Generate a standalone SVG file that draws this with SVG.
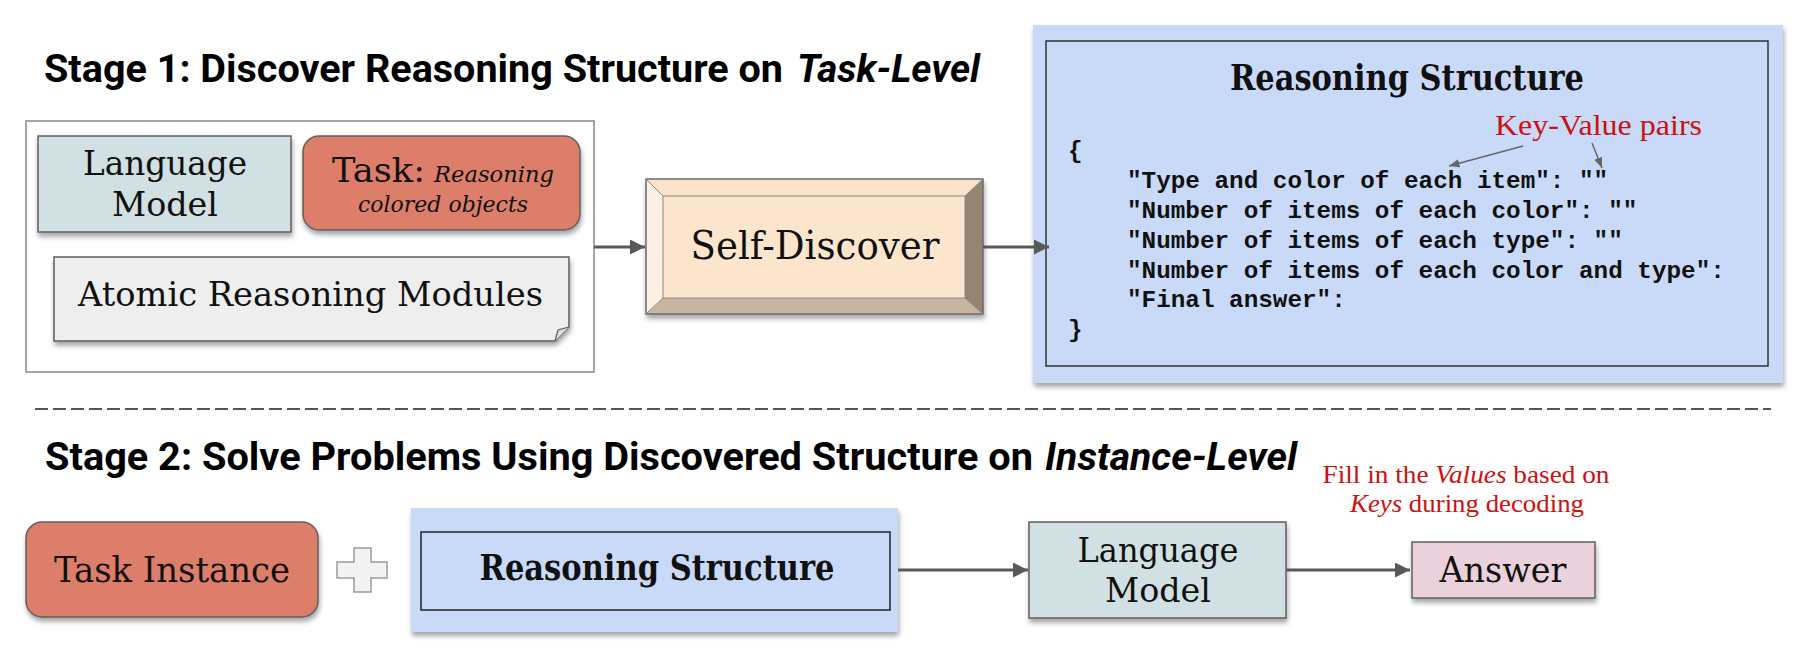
<svg xmlns="http://www.w3.org/2000/svg" width="1806" height="652" viewBox="0 0 1806 652">
<style>
.title{font-family:Roboto,"Liberation Sans",sans-serif;font-weight:700;font-size:38px;fill:#000}
.ser{font-family:"DejaVu Serif","Liberation Serif",serif;fill:#111}
.red{font-family:"Liberation Serif",serif;fill:#cc1111}
.code{font-family:"Liberation Mono",monospace;font-weight:700;font-size:24.3px;fill:#111}
.box{stroke:#5f5f5f;stroke-width:1.5}
.conn{stroke:#595959;stroke-width:3;fill:none}
.thin{stroke:#666;stroke-width:1.5;fill:none}
</style>
<defs>
<filter id="sh" x="-10%" y="-10%" width="130%" height="140%">
<feDropShadow dx="1" dy="4" stdDeviation="2.5" flood-color="#000" flood-opacity="0.35"/>
</filter>
<marker id="ah" viewBox="0 0 10 10" refX="10" refY="5" markerWidth="5" markerHeight="5" orient="auto" markerUnits="strokeWidth">
<path d="M0,0 L10,5 L0,10 Z" fill="#595959"/>
</marker>
<marker id="ahs" viewBox="0 0 10 10" refX="10" refY="5" markerWidth="7" markerHeight="7" orient="auto" markerUnits="strokeWidth">
<path d="M0,1 L10,5 L0,9 Z" fill="#666"/>
</marker>
</defs>

<!-- Titles -->
<text class="title" x="44" y="82" textLength="739" lengthAdjust="spacingAndGlyphs">Stage 1: Discover Reasoning Structure on</text>
<text class="title" x="797" y="82" font-style="italic" textLength="183" lengthAdjust="spacingAndGlyphs">Task-Level</text>
<text class="title" x="45" y="470" textLength="988" lengthAdjust="spacingAndGlyphs">Stage 2: Solve Problems Using Discovered Structure on</text>
<text class="title" x="1045" y="470" font-style="italic" textLength="252" lengthAdjust="spacingAndGlyphs">Instance-Level</text>

<!-- Divider -->
<line x1="35" y1="409" x2="1771" y2="409" stroke="#555" stroke-width="2" stroke-dasharray="13 5"/>

<!-- Stage 1 container -->
<g id="stage1-inputs">
<rect x="26" y="121" width="568" height="251" fill="#fff" stroke="#888" stroke-width="1.5"/>
</g>

<g id="language-model-1">
<rect class="box" x="38" y="136" width="253" height="96" fill="#d0e0e3" filter="url(#sh)"/>
<text class="ser" font-size="34" text-anchor="middle" x="165" y="175" textLength="164" lengthAdjust="spacingAndGlyphs">Language</text>
<text class="ser" font-size="34" text-anchor="middle" x="165" y="216" textLength="106" lengthAdjust="spacingAndGlyphs">Model</text>
</g>

<g id="task">
<rect class="box" x="303" y="136" width="277" height="94" rx="16" fill="#dd7e6b" filter="url(#sh)"/>
<text class="ser" font-size="34" x="332" y="182" textLength="93" lengthAdjust="spacingAndGlyphs">Task:</text>
<text class="ser" font-size="23" font-style="italic" x="434" y="182" textLength="120" lengthAdjust="spacingAndGlyphs">Reasoning</text>
<text class="ser" font-size="23" font-style="italic" x="358" y="212" textLength="170" lengthAdjust="spacingAndGlyphs">colored objects</text>
</g>

<g id="atomic-modules">
<path class="box" d="M54,257 H569 V327 L555,341 H54 Z" fill="#eeeeee" filter="url(#sh)"/>
<path d="M555,341 L558,330 L569,327" fill="#ddd" stroke="#5f5f5f" stroke-width="1.2"/>
<text class="ser" font-size="34" x="78" y="306" textLength="465" lengthAdjust="spacingAndGlyphs">Atomic Reasoning Modules</text>
</g>

<g id="self-discover">
<g filter="url(#sh)">
<rect x="646" y="179" width="337" height="135" fill="#fce5cd"/>
<polygon points="646,179 983,179 965,196 663,196" fill="#fbe3ca"/>
<polygon points="646,179 663,196 663,298 646,314" fill="#fdf1e5"/>
<polygon points="646,314 663,298 965,298 983,314" fill="#c8b4a0"/>
<polygon points="983,179 965,196 965,298 983,314" fill="#938571"/>
<rect x="646" y="179" width="337" height="135" fill="none" stroke="#6a6a6a" stroke-width="1.5"/>
<rect x="663" y="196" width="302" height="102" fill="none" stroke="#8a8a8a" stroke-width="1"/>
<line x1="646" y1="179" x2="663" y2="196" stroke="#8a8a8a"/>
<line x1="983" y1="179" x2="965" y2="196" stroke="#8a8a8a"/>
<line x1="646" y1="314" x2="663" y2="298" stroke="#8a8a8a"/>
<line x1="983" y1="314" x2="965" y2="298" stroke="#8a8a8a"/>
</g>
<text class="ser" font-size="40" text-anchor="middle" x="815" y="259" textLength="249" lengthAdjust="spacingAndGlyphs">Self-Discover</text>
</g>

<g id="reasoning-structure-1">
<rect x="1033" y="25" width="750" height="358" fill="#c9daf8" filter="url(#sh)"/>
<rect x="1046" y="41" width="722" height="325" fill="none" stroke="#333" stroke-width="1.5"/>
<text class="ser" font-size="35" font-weight="bold" x="1230" y="90" textLength="354" lengthAdjust="spacingAndGlyphs">Reasoning Structure</text>
<text class="red" font-size="29" x="1495" y="135" textLength="207" lengthAdjust="spacingAndGlyphs">Key-Value pairs</text>
<text class="code" x="1068" y="158">{</text>
<text class="code" x="1127" y="188">"Type and color of each item": ""</text>
<text class="code" x="1127" y="218">"Number of items of each color": ""</text>
<text class="code" x="1127" y="248">"Number of items of each type": ""</text>
<text class="code" x="1127" y="278">"Number of items of each color and type":</text>
<text class="code" x="1127" y="307">"Final answer":</text>
<text class="code" x="1068" y="337">}</text>
<line class="thin" x1="1523" y1="146" x2="1449" y2="166" marker-end="url(#ahs)"/>
<line class="thin" x1="1592" y1="143" x2="1602" y2="168" marker-end="url(#ahs)"/>
</g>

<!-- Stage 2 nodes -->
<g id="task-instance">
<rect class="box" x="26" y="522" width="292" height="95" rx="16" fill="#dd7e6b" filter="url(#sh)"/>
<text class="ser" font-size="36" text-anchor="middle" x="172" y="582" textLength="236" lengthAdjust="spacingAndGlyphs">Task Instance</text>
</g>

<g id="plus">
<path d="M354,548 H371 V562 H387 V578 H371 V592 H354 V578 H337 V562 H354 Z" fill="#f3f3f3" stroke="#9a9a9a" stroke-width="1.5"/>
</g>

<g id="reasoning-structure-2">
<rect x="411" y="508" width="487" height="124" fill="#c9daf8" filter="url(#sh)"/>
<rect x="421" y="532" width="469" height="78" fill="none" stroke="#222" stroke-width="1.5"/>
<text class="ser" font-size="35" font-weight="bold" text-anchor="middle" x="657" y="580" textLength="355" lengthAdjust="spacingAndGlyphs">Reasoning Structure</text>
</g>

<g id="language-model-2">
<rect class="box" x="1029" y="522" width="257" height="96" fill="#d0e0e3" filter="url(#sh)"/>
<text class="ser" font-size="34" text-anchor="middle" x="1158" y="562" textLength="161" lengthAdjust="spacingAndGlyphs">Language</text>
<text class="ser" font-size="34" text-anchor="middle" x="1158" y="602" textLength="106" lengthAdjust="spacingAndGlyphs">Model</text>
</g>

<g id="answer">
<rect class="box" x="1412" y="542" width="183" height="56" fill="#ead1dc" filter="url(#sh)"/>
<text class="ser" font-size="36" text-anchor="middle" x="1503" y="582" textLength="127" lengthAdjust="spacingAndGlyphs">Answer</text>
</g>

<g id="fill-note">
<text class="red" font-size="26" text-anchor="middle" x="1466" y="483" textLength="287" lengthAdjust="spacingAndGlyphs">Fill in the <tspan font-style="italic">Values</tspan> based on</text>
<text class="red" font-size="26" text-anchor="middle" x="1467" y="512" textLength="234" lengthAdjust="spacingAndGlyphs"><tspan font-style="italic">Keys</tspan> during decoding</text>
</g>

<g id="connectors">
<line class="conn" x1="594" y1="247" x2="645" y2="247" marker-end="url(#ah)"/>
<line class="conn" x1="983" y1="247" x2="1049" y2="247" marker-end="url(#ah)"/>
<line class="conn" x1="898" y1="570" x2="1028" y2="570" marker-end="url(#ah)"/>
<line class="conn" x1="1286" y1="570" x2="1410" y2="570" marker-end="url(#ah)"/>
</g>
</svg>
